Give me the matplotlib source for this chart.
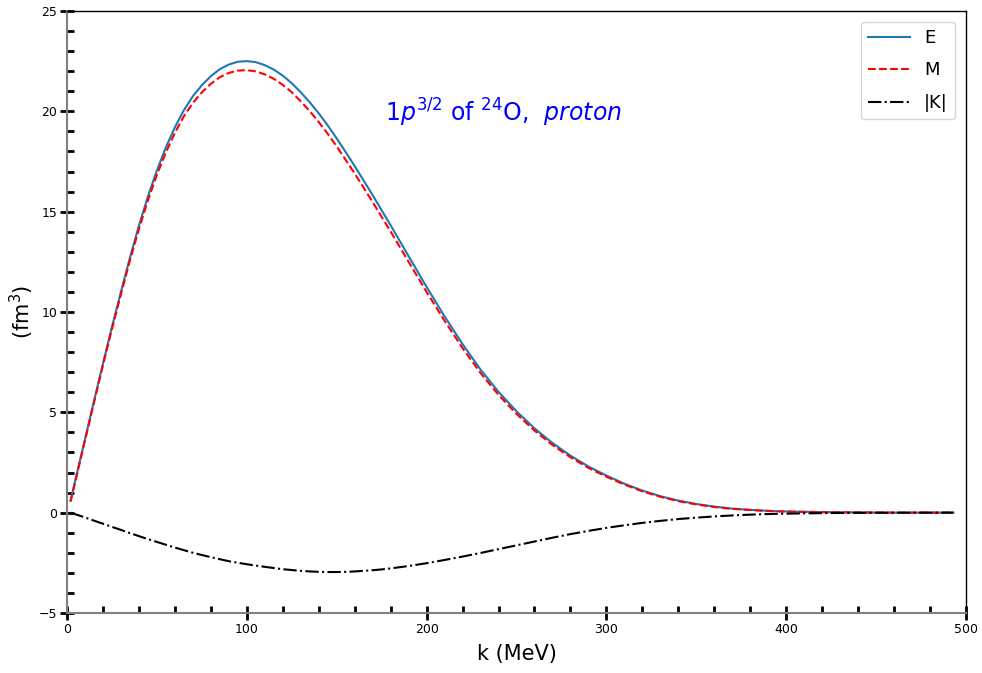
import numpy as np
import matplotlib
matplotlib.use('Agg')
import matplotlib.pyplot as plt
from matplotlib.ticker import MultipleLocator

# ── values (k in MeV, densities in fm^3) ──
k_vals = [2, 5, 10, 15, 20, 25, 30, 35, 40, 45, 50, 55, 60, 65, 70, 75, 80,
          85, 90, 95, 100, 105, 110, 115, 120, 125, 130, 135, 140, 145, 150,
          155, 160, 165, 170, 175, 180,
          190, 200, 210, 220, 230, 240, 250, 260, 270, 280, 290, 300, 310,
          320, 330, 340, 350, 360, 370, 380, 390, 400,
          420, 440, 460, 493]

E_vals = [0.60, 1.75, 3.65, 5.55, 7.42, 9.25, 11.0, 12.7, 14.3, 15.75, 17.05,
          18.2, 19.2, 20.05, 20.75, 21.3, 21.75, 22.1, 22.33, 22.47, 22.5,
          22.45, 22.3, 22.08, 21.78, 21.4, 20.95, 20.45, 19.9, 19.3, 18.65,
          17.97, 17.27, 16.55, 15.82, 15.07, 14.32,
          12.78, 11.25, 9.78, 8.40, 7.13, 6.02, 5.05, 4.20, 3.47, 2.84, 2.30,
          1.85, 1.44, 1.10, 0.82, 0.60, 0.43, 0.30, 0.20, 0.14, 0.09, 0.06,
          0.03, 0.01, 0.0, 0.0]

M_vals = [0.55, 1.70, 3.59, 5.48, 7.34, 9.15, 10.88, 12.56, 14.13, 15.56,
          16.83, 17.95, 18.92, 19.75, 20.42, 20.94, 21.37, 21.70, 21.91, 22.03,
          22.05, 21.99, 21.84, 21.62, 21.32, 20.95, 20.50, 20.01, 19.47, 18.88,
          18.25, 17.58, 16.90, 16.19, 15.48, 14.74, 14.01,
          12.50, 11.00, 9.56, 8.20, 6.96, 5.87, 4.92, 4.09, 3.37, 2.76, 2.23,
          1.79, 1.40, 1.06, 0.79, 0.57, 0.41, 0.28, 0.19, 0.13, 0.08, 0.05,
          0.02, 0.01, 0.0, 0.0]

K_vals = [0.0, -0.09, -0.24, -0.40, -0.55, -0.71, -0.86, -1.02, -1.17, -1.32,
          -1.46, -1.60, -1.74, -1.87, -2.0, -2.11, -2.22, -2.32, -2.42, -2.50,
          -2.57, -2.64, -2.70, -2.76, -2.82, -2.86, -2.90, -2.93, -2.95, -2.96,
          -2.96, -2.95, -2.93, -2.90, -2.87, -2.83, -2.78,
          -2.66, -2.52, -2.36, -2.19, -2.01, -1.82, -1.63, -1.44, -1.25, -1.07,
          -0.91, -0.76, -0.63, -0.51, -0.41, -0.32, -0.25, -0.19, -0.14, -0.10,
          -0.07, -0.05,
          -0.025, -0.01, -0.005, 0.0]

fig = plt.figure(figsize=(9.82, 6.73), dpi=100)
ax = fig.add_axes([0.0682, 0.0892, 0.9155, 0.8945])

ax.plot(k_vals, E_vals, color='tab:blue', lw=1.5, label='E')
ax.plot(k_vals, M_vals, color='red', lw=1.5, ls='--', label='M')
ax.plot(k_vals, K_vals, color='black', lw=1.5, ls='-.', label='|K|')

ax.set_xlim(0, 500)
ax.set_ylim(-5, 25)
ax.xaxis.set_major_locator(MultipleLocator(100))
ax.xaxis.set_minor_locator(MultipleLocator(20))
ax.yaxis.set_major_locator(MultipleLocator(5))
ax.yaxis.set_minor_locator(MultipleLocator(1))
ax.tick_params(which='major', direction='inout', length=10, width=2,
               labelsize=9, pad=2)
ax.tick_params(which='minor', direction='in', length=5, width=2)

for side in ('left', 'bottom'):
    ax.spines[side].set_color('gray')
    ax.spines[side].set_linewidth(1.5)
for side in ('top', 'right'):
    ax.spines[side].set_color('black')
    ax.spines[side].set_linewidth(1.0)

ax.set_xlabel('k (MeV)', fontsize=15, labelpad=6)
ax.set_ylabel(r'(fm$^3$)', fontsize=15, labelpad=2)

ax.text(177, 19.9, r'$1p^{3/2}$ of $^{24}$O,  $proton$', color='blue',
        fontsize=17, va='center', ha='left')

ax.legend(loc='upper right', fontsize=13, handlelength=2.3,
          labelspacing=0.8, borderaxespad=0.6)

fig.savefig('out.png', dpi=100)
